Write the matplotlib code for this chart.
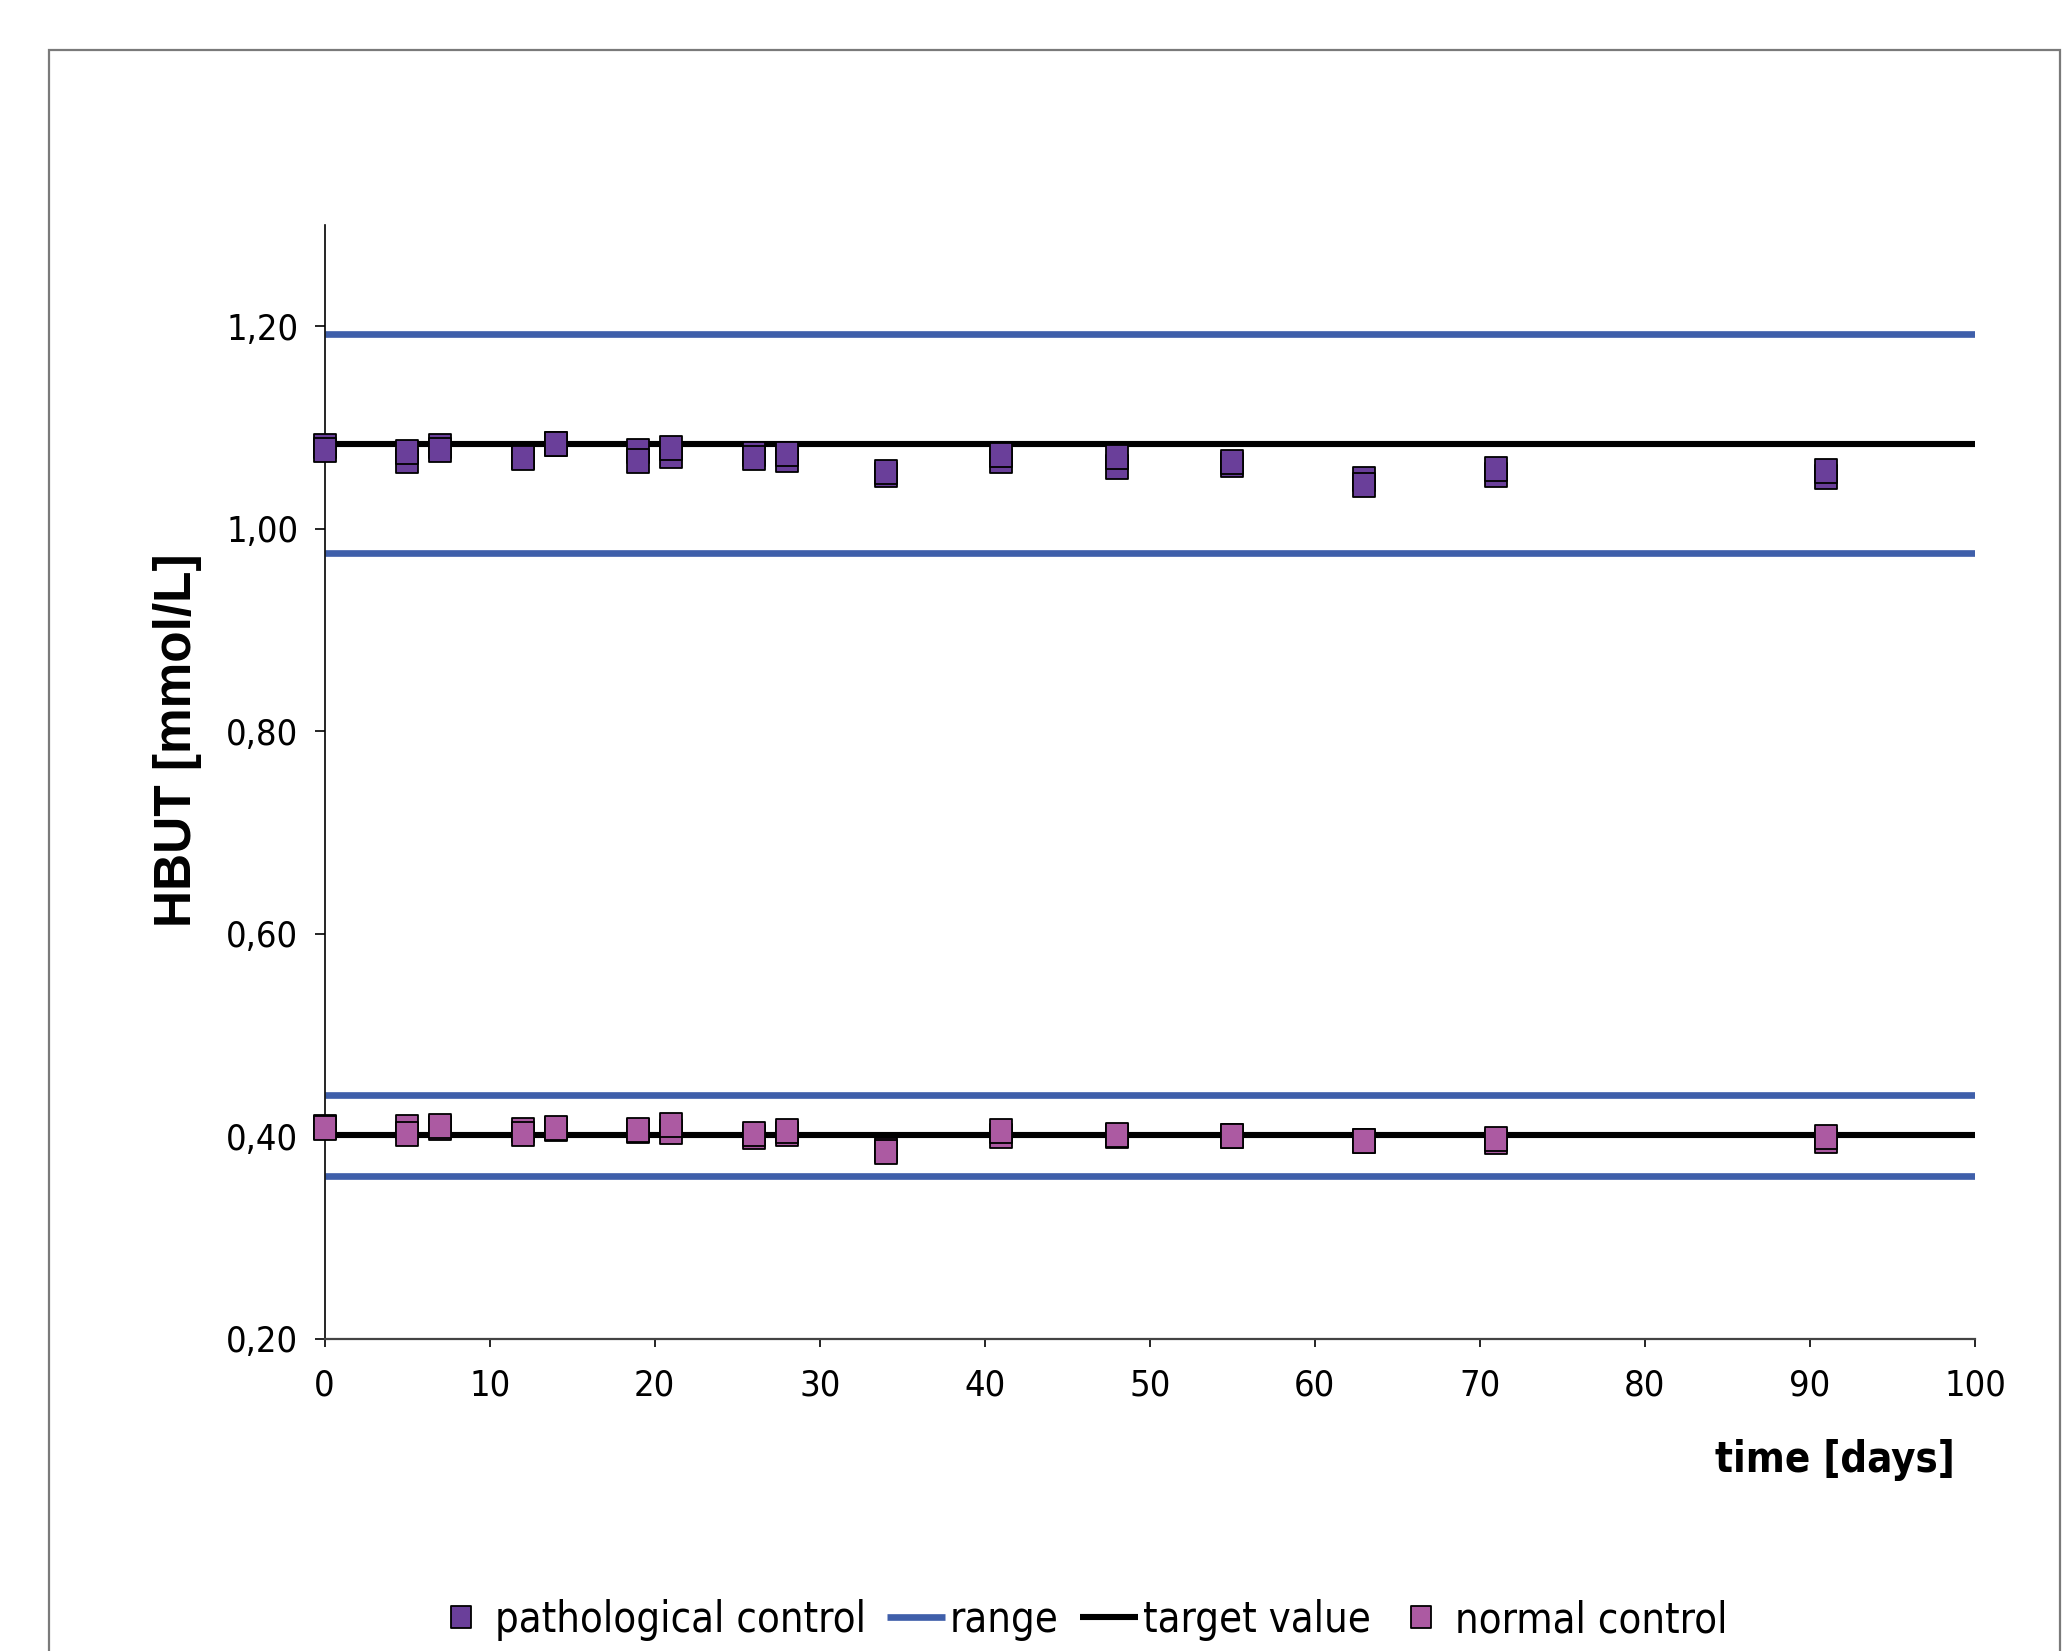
#!/usr/bin/env python3
"""HBUT control material stability over time (pathological / normal control)."""

from __future__ import annotations

import matplotlib as mpl

mpl.use("Agg")
import matplotlib.pyplot as plt
from matplotlib import font_manager
from matplotlib.patches import Rectangle
from matplotlib.path import Path


DAYS = [0, 5, 7, 12, 14, 19, 21, 26, 28, 34, 41, 48, 55, 63, 71, 91]

# two measurements per day; the second one is drawn on top
PATH_1 = [1.0820, 1.0672, 1.0820, 1.0712, 1.0839, 1.0770, 1.0718, 1.0741,
          1.0678, 1.0530, 1.0672, 1.0606, 1.0632, 1.0491, 1.0530, 1.0507]
PATH_2 = [1.0777, 1.0760, 1.0780, 1.0704, 1.0836, 1.0668, 1.0800, 1.0698,
          1.0737, 1.0563, 1.0727, 1.0711, 1.0658, 1.0428, 1.0586, 1.0569]
NORM_1 = [0.4090, 0.4097, 0.4081, 0.4064, 0.4075, 0.4055, 0.4041, 0.3995,
          0.4020, 0.3867, 0.4002, 0.4005, 0.4000, 0.3950, 0.3943, 0.3959]
NORM_2 = [0.4085, 0.4028, 0.4104, 0.4022, 0.4087, 0.4068, 0.4114, 0.4028,
          0.4051, 0.3844, 0.4054, 0.4015, 0.4008, 0.3959, 0.3976, 0.3992]

TARGETS = [1.084, 0.401]
RANGES = [1.192, 0.976, 0.441, 0.361]
X_SPAN = [0, 100]

Y_TICKS = [0.20, 0.40, 0.60, 0.80, 1.00, 1.20]
Y_TICK_LABELS = ["0,20", "0,40", "0,60", "0,80", "1,00", "1,20"]
X_TICKS = [0, 10, 20, 30, 40, 50, 60, 70, 80, 90, 100]

COL_PATH = "#6A3F9A"
COL_NORM = "#AC5AA2"
COL_RANGE = "#3F5FAA"
COL_TARGET = "#000000"


def _pick_fonts():
    names = {f.name for f in font_manager.fontManager.ttflist}
    narrow = "Liberation Sans Narrow" if "Liberation Sans Narrow" in names else "DejaVu Sans"
    regular = "Liberation Sans" if "Liberation Sans" in names else "DejaVu Sans"
    return narrow, regular


def draw() -> None:
    narrow, regular = _pick_fonts()
    mpl.rcParams.update({"font.family": [narrow, "DejaVu Sans"], "font.stretch": "condensed"})

    fig = plt.figure(figsize=(20.68, 16.51), dpi=100)
    fig.patch.set_facecolor("white")

    # outer chart frame
    fig.add_artist(Rectangle((49 / 2068, -0.05), (2060 - 49) / 2068, 1.05 - 50 / 1651,
                             transform=fig.transFigure, fill=False,
                             edgecolor="#7a7a7a", linewidth=1.6))

    ax = fig.add_axes([0.157, 0.189, 0.798, 0.6747])

    # slightly tall rectangular marker, like the stretched original
    rect = Path([(-0.46, -0.5), (0.46, -0.5), (0.46, 0.5), (-0.46, 0.5), (-0.46, -0.5)],
                [Path.MOVETO, Path.LINETO, Path.LINETO, Path.LINETO, Path.CLOSEPOLY])

    for i, r in enumerate(RANGES):
        ax.plot(X_SPAN, [r, r], color=COL_RANGE, lw=4.8, solid_capstyle="butt",
                zorder=2, label="range" if i == 0 else None)
    for i, t in enumerate(TARGETS):
        ax.plot(X_SPAN, [t, t], color=COL_TARGET, lw=4.4, solid_capstyle="butt",
                zorder=2, label="target value" if i == 0 else None)

    mk = dict(ls="none", marker=rect, ms=17, mec="black", mew=1.3, zorder=4, clip_on=False)
    ax.plot(DAYS, PATH_1, mfc=COL_PATH, label="pathological control", **mk)
    ax.plot(DAYS, PATH_2, mfc=COL_PATH, **mk)
    ax.plot(DAYS, NORM_1, mfc=COL_NORM, label="normal control", **mk)
    ax.plot(DAYS, NORM_2, mfc=COL_NORM, **mk)

    ax.set_xlim(0, 100)
    ax.set_ylim(0.20, 1.30)
    ax.set_xticks(X_TICKS)
    ax.set_yticks(Y_TICKS)
    ax.set_yticklabels(Y_TICK_LABELS)
    ax.tick_params(axis="y", labelsize=26, length=7, width=1.2, pad=12, direction="out")
    ax.tick_params(axis="x", labelsize=26, length=6, width=1.2, pad=15, direction="out")

    for spine in ("top", "right"):
        ax.spines[spine].set_visible(False)
    ax.spines["left"].set_linewidth(1.2)
    ax.spines["bottom"].set_linewidth(1.6)
    ax.spines["bottom"].set_color("#444444")

    fig.text(177 / 2068, 1 - 740 / 1651, "HBUT [mmol/L]", rotation=90,
             ha="center", va="center", fontsize=37, fontweight="bold",
             family=[regular, "DejaVu Sans"], stretch="normal")
    fig.text(1955 / 2068, 1 - 1460 / 1651, "time [days]", ha="right", va="center",
             fontsize=30, fontweight="bold")

    handles, labels = ax.get_legend_handles_labels()
    order = ["pathological control", "range", "target value", "normal control"]
    hmap = dict(zip(labels, handles))
    fig.legend([hmap[k] for k in order], order, loc="center",
               bbox_to_anchor=(0.522, 1 - 1620 / 1651), ncol=4, frameon=False,
               fontsize=30, handlelength=1.4, handletextpad=0.12,
               columnspacing=0.5, markerscale=0.95)

    fig.savefig("out.png", dpi=100, facecolor="white")
    plt.close(fig)


if __name__ == "__main__":
    draw()
